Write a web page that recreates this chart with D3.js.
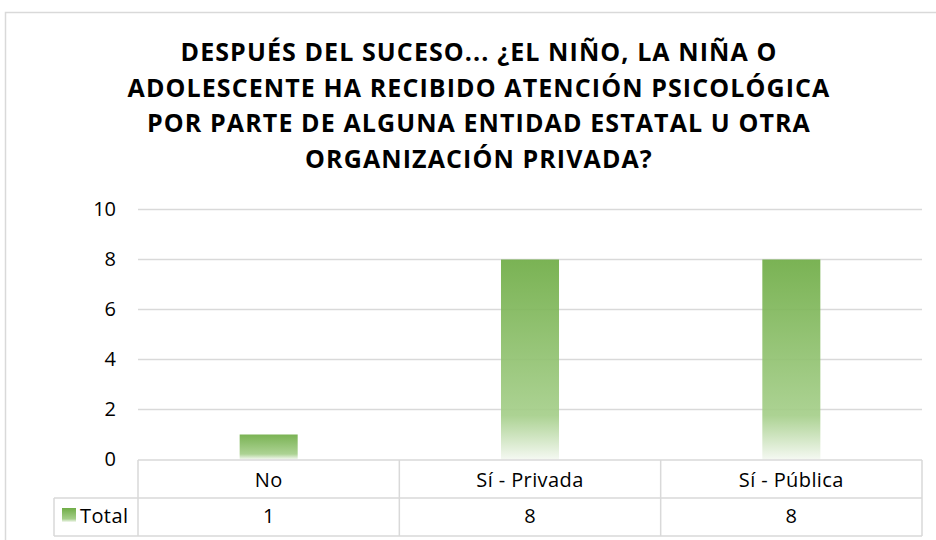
<!DOCTYPE html>
<html>
<head>
<meta charset="utf-8">
<script src="https://cdn.jsdelivr.net/npm/d3@7"></script>
<style>
  body { margin: 0; background: #fff; }
  svg { display: block; font-family: "Open Sans", sans-serif; }
</style>
</head>
<body>
<svg id="chart" width="936" height="540"></svg>
<script>
// data
var titleLines = [
  "DESPUÉS DEL SUCESO... ¿EL NIÑO, LA NIÑA O",
  "ADOLESCENTE HA RECIBIDO ATENCIÓN PSICOLÓGICA",
  "POR PARTE DE ALGUNA ENTIDAD ESTATAL U OTRA",
  "ORGANIZACIÓN PRIVADA?"
];
var categories = ["No", "Sí - Privada", "Sí - Pública"];
var totals = [1, 8, 8];
var seriesName = "Total";
var yTicks = [0, 2, 4, 6, 8, 10];

var svg = d3.select("#chart");
var gridColor = "#d9d9d9";
var labelSize = "20px";

// chart area border
svg.append("rect")
  .attr("x", 5.5).attr("y", 12.5)
  .attr("width", 960).attr("height", 560)
  .attr("fill", "none")
  .attr("stroke", gridColor)
  .attr("stroke-width", 1.5);

// gradient like the office fill
var defs = svg.append("defs");
var grad = defs.append("linearGradient")
  .attr("id", "barFill")
  .attr("x1", 0).attr("y1", 0).attr("x2", 0).attr("y2", 1);
grad.append("stop").attr("offset", "0%").attr("stop-color", "#70ad47");
grad.append("stop").attr("offset", "78%").attr("stop-color", "#a6cf8b");
grad.append("stop").attr("offset", "100%").attr("stop-color", "#f4f8f1");

// title
svg.append("g")
  .selectAll("text")
  .data(titleLines)
  .enter()
  .append("text")
  .attr("x", 479)
  .attr("y", function (d, i) { return 61 + i * 35.7; })
  .attr("text-anchor", "middle")
  .style("font-size", "25px")
  .style("font-weight", "bold")
  .style("letter-spacing", "1.1px")
  .style("fill", "#000")
  .text(function (d) { return d; });

var x = d3.scaleBand()
  .domain(categories)
  .range([138, 922])
  .padding(0);

var y = d3.scaleLinear()
  .domain([0, 10])
  .range([459.5, 209.5]);

// gridlines
svg.append("g")
  .selectAll("line")
  .data(yTicks.slice(1))
  .enter()
  .append("line")
  .attr("x1", 138).attr("x2", 922)
  .attr("y1", function (d) { return y(d); })
  .attr("y2", function (d) { return y(d); })
  .style("stroke", gridColor)
  .style("stroke-width", 1.5);

// y axis labels
var yAxis = d3.axisLeft(y).tickValues(yTicks).tickSize(0).tickPadding(0);
var yg = svg.append("g")
  .attr("transform", "translate(116,0)")
  .call(yAxis);
yg.select(".domain").remove();
yg.selectAll("text")
  .style("font-family", "'Open Sans', sans-serif")
  .style("font-size", labelSize)
  .style("fill", "#000");

// bars
var barW = x.bandwidth() * 0.222;
svg.append("g")
  .selectAll("rect")
  .data(totals)
  .enter()
  .append("rect")
  .attr("x", function (d, i) { return x(categories[i]) + (x.bandwidth() - barW) / 2; })
  .attr("y", function (d) { return y(d); })
  .attr("width", barW)
  .attr("height", function (d) { return y(0) - y(d); })
  .attr("fill", "url(#barFill)")
  .attr("fill-opacity", 0.93);

// data table
var rowTop = 460, rowMid = 498, rowBot = 536, legendLeft = 54;
var table = svg.append("g")
  .style("stroke", gridColor)
  .style("stroke-width", 1.5);
table.append("line").attr("x1", 138).attr("x2", 922).attr("y1", rowTop).attr("y2", rowTop);
table.append("line").attr("x1", legendLeft).attr("x2", 922).attr("y1", rowMid).attr("y2", rowMid);
table.append("line").attr("x1", legendLeft).attr("x2", 922).attr("y1", rowBot).attr("y2", rowBot);
table.append("line").attr("x1", legendLeft).attr("x2", legendLeft).attr("y1", rowMid).attr("y2", rowBot);
var edges = categories.map(function (c) { return x(c); }).concat([x.range()[1]]);
table.selectAll(".vline")
  .data(edges)
  .enter()
  .append("line")
  .attr("class", "vline")
  .attr("x1", function (d) { return d; })
  .attr("x2", function (d) { return d; })
  .attr("y1", rowTop).attr("y2", rowBot);

// category labels
svg.append("g")
  .selectAll("text")
  .data(categories)
  .enter()
  .append("text")
  .attr("x", function (d) { return x(d) + x.bandwidth() / 2; })
  .attr("y", 486.5)
  .attr("text-anchor", "middle")
  .style("font-size", labelSize)
  .style("letter-spacing", "0.4px")
  .style("fill", "#000")
  .text(function (d) { return d; });

// value row
svg.append("g")
  .selectAll("text")
  .data(totals)
  .enter()
  .append("text")
  .attr("x", function (d, i) { return x(categories[i]) + x.bandwidth() / 2; })
  .attr("y", 523)
  .attr("text-anchor", "middle")
  .style("font-size", labelSize)
  .style("fill", "#000")
  .text(function (d) { return d; });

// legend key
svg.append("rect")
  .attr("x", 62).attr("y", 508)
  .attr("width", 14).attr("height", 14)
  .attr("fill", "url(#barFill)");
svg.append("text")
  .attr("x", 80).attr("y", 523)
  .style("font-size", labelSize)
  .style("letter-spacing", "0.4px")
  .style("fill", "#000")
  .text(seriesName);
</script>
</body>
</html>
